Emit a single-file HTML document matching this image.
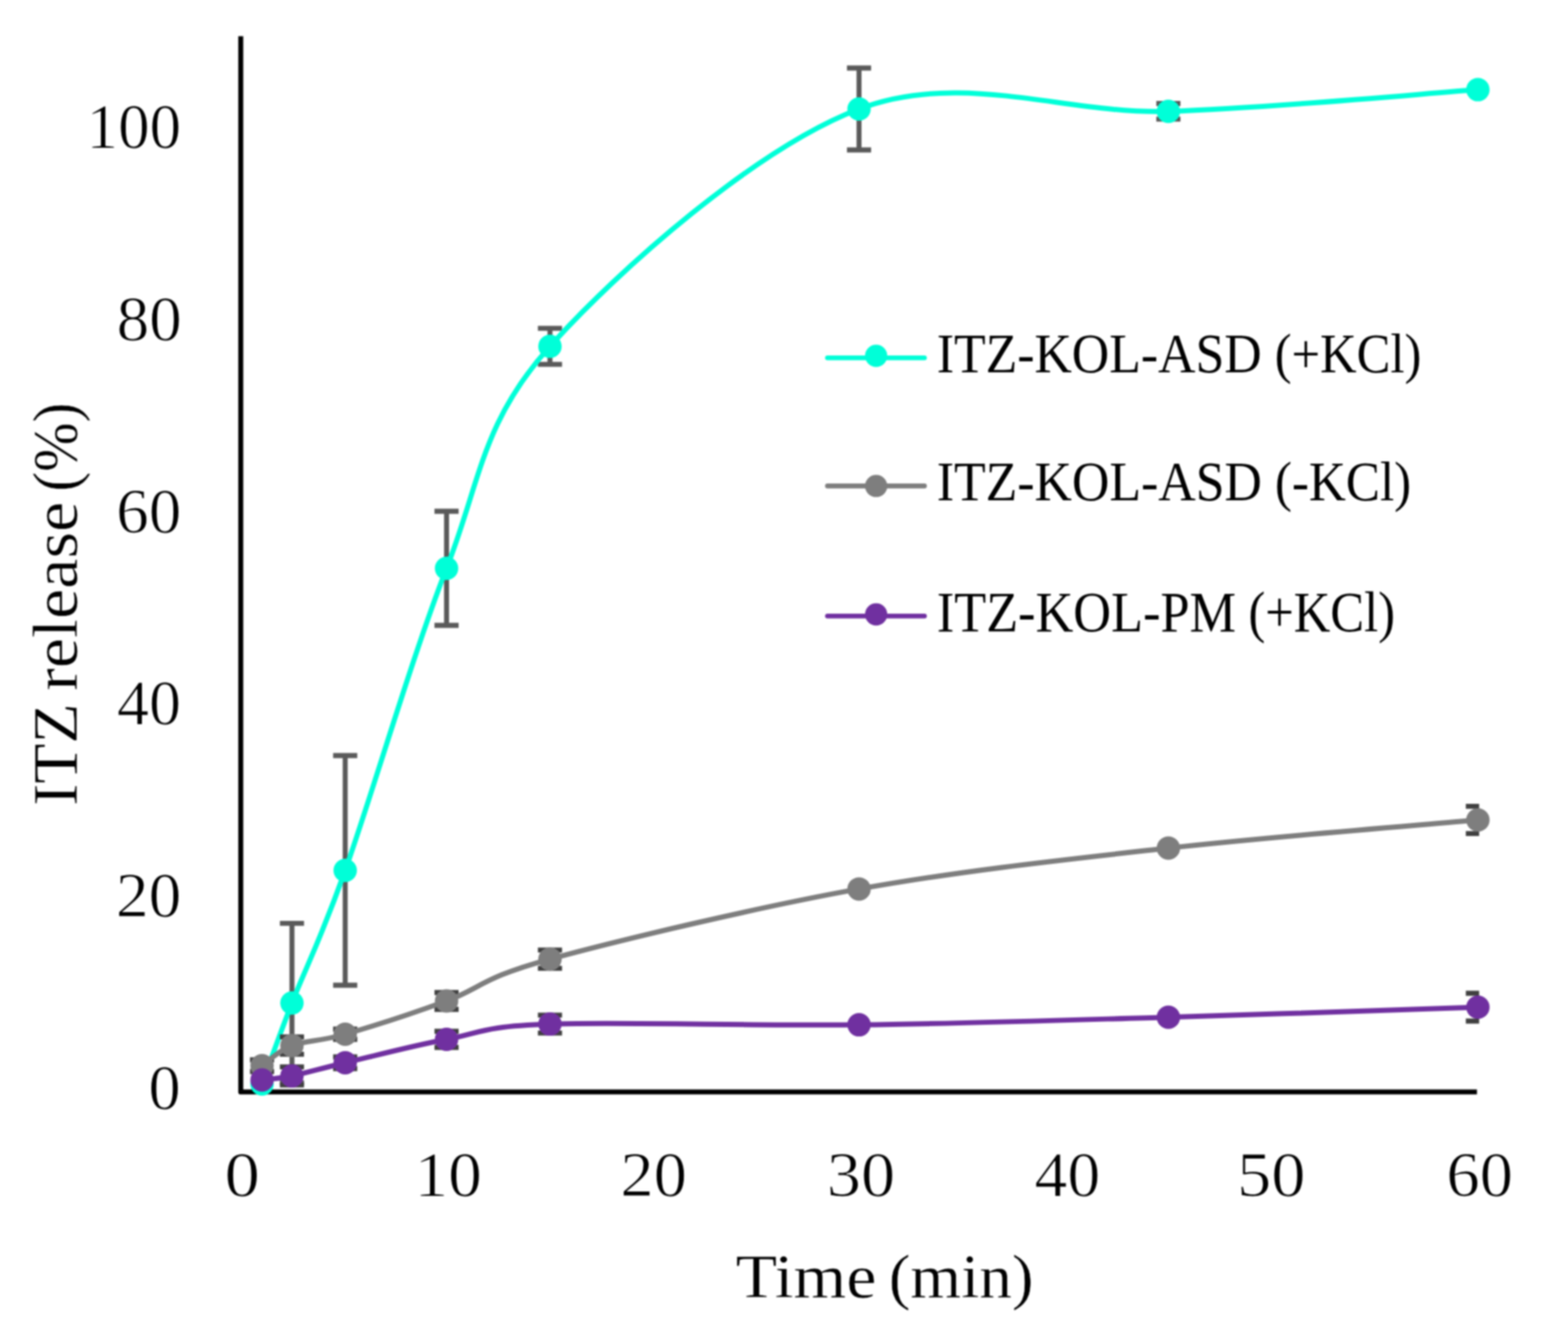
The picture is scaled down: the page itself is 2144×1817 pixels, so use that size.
<!DOCTYPE html>
<html><head><meta charset="utf-8"><title>ITZ release chart</title>
<style>html,body{margin:0;padding:0;background:#fff;width:2144px;height:1817px;overflow:hidden}svg{display:block;filter:blur(0.9px)}text{stroke:#fff}.d{stroke-width:1px}.l{stroke-width:0}.t{stroke-width:0.5px}</style>
</head><body>
<svg xmlns="http://www.w3.org/2000/svg" width="2144" height="1817" viewBox="0 0 2144 1817" font-family="'Liberation Serif', 'DejaVu Serif', serif" fill="#000">
<rect width="2144" height="1817" fill="#fff"/>
<defs><clipPath id="pa"><rect x="326" y="40" width="1696.5" height="1460"/></clipPath></defs>
<path d="M329.2,49.5V1492.9H2019.5" stroke="#000" stroke-width="6.8" fill="none" stroke-linejoin="round"/>
<text class="d" transform="matrix(1.0269,0,0,1.0230,118.35,202.11)" font-size="84">100</text>
<text class="d" transform="matrix(1.0597,0,0,1.0230,159.54,464.83)" font-size="84">80</text>
<text class="d" transform="matrix(1.0570,0,0,1.0230,159.06,727.55)" font-size="84">60</text>
<text class="d" transform="matrix(1.0407,0,0,1.0230,160.07,990.27)" font-size="84">40</text>
<text class="d" transform="matrix(1.0636,0,0,1.0230,158.53,1252.99)" font-size="84">20</text>
<text class="d" transform="matrix(1.0484,0,0,1.0230,203.08,1515.71)" font-size="84">0</text>
<text class="d" transform="matrix(1.1521,0,0,1.0230,306.91,1635.01)" font-size="84">0</text>
<text class="d" transform="matrix(1.0990,0,0,1.0230,566.68,1635.01)" font-size="84">10</text>
<text class="d" transform="matrix(1.0846,0,0,1.0230,848.14,1635.01)" font-size="84">20</text>
<text class="d" transform="matrix(1.1136,0,0,1.0230,1130.51,1635.01)" font-size="84">30</text>
<text class="d" transform="matrix(1.0701,0,0,1.0230,1414.50,1635.01)" font-size="84">40</text>
<text class="d" transform="matrix(1.1141,0,0,1.0230,1691.47,1635.01)" font-size="84">50</text>
<text class="d" transform="matrix(1.0846,0,0,1.0230,1977.64,1635.01)" font-size="84">60</text>
<path d="M399.20,1262.30V1480.30M382.70,1262.30h33.00M382.70,1480.30h33.00M472.00,1033.00V1347.00M455.50,1033.00h33.00M455.50,1347.00h33.00M610.60,699.00V855.00M594.10,699.00h33.00M594.10,855.00h33.00M752.00,448.80V498.20M735.50,448.80h33.00M735.50,498.20h33.00M1174.60,93.00V205.00M1158.10,93.00h33.00M1158.10,205.00h33.00M1597.60,141.50V162.90M1581.10,141.50h33.00M1581.10,162.90h33.00" stroke="#5a5a5a" stroke-width="6.8" fill="none" clip-path="url(#pa)"/>
<path d="M358.30,1482.00 C365.12,1463.55 380.25,1419.97 399.20,1371.30 C418.15,1322.63 436.77,1289.05 472.00,1190.00 C507.23,1090.95 563.93,896.42 610.60,777.00 C657.27,657.58 658.00,578.17 752.00,473.50 C846.00,368.83 1033.67,202.55 1174.60,149.00 C1315.53,95.45 1456.57,156.60 1597.60,152.20 C1738.63,147.80 1950.27,127.53 2020.80,122.60" stroke="#00FFD8" stroke-width="7.0" fill="none" stroke-linecap="round" stroke-linejoin="round"/>
<circle cx="358.30" cy="1482.00" r="16.0" fill="#00FFD8"/>
<circle cx="399.20" cy="1371.30" r="16.0" fill="#00FFD8"/>
<circle cx="472.00" cy="1190.00" r="16.0" fill="#00FFD8"/>
<circle cx="610.60" cy="777.00" r="16.0" fill="#00FFD8"/>
<circle cx="752.00" cy="473.50" r="16.0" fill="#00FFD8"/>
<circle cx="1174.60" cy="149.00" r="16.0" fill="#00FFD8"/>
<circle cx="1597.60" cy="152.20" r="16.0" fill="#00FFD8"/>
<circle cx="2020.80" cy="122.60" r="16.0" fill="#00FFD8"/>
<path d="M358.30,1449.00V1465.00M341.80,1449.00h33.00M341.80,1465.00h33.00M399.20,1417.70V1441.30M382.70,1417.70h33.00M382.70,1441.30h33.00M472.00,1407.00V1421.00M455.50,1407.00h33.00M455.50,1421.00h33.00M610.60,1357.00V1380.00M594.10,1357.00h33.00M594.10,1380.00h33.00M752.00,1298.80V1323.80M735.50,1298.80h33.00M735.50,1323.80h33.00M2020.80,1102.30V1139.70M2004.30,1102.30h33.00M2004.30,1139.70h33.00" stroke="#404040" stroke-width="6.8" fill="none" clip-path="url(#pa)"/>
<path d="M358.30,1457.00 C365.12,1452.42 380.25,1436.67 399.20,1429.50 C418.15,1422.33 436.77,1424.17 472.00,1414.00 C507.23,1403.83 563.93,1385.62 610.60,1368.50 C657.27,1351.38 658.00,1336.82 752.00,1311.30 C846.00,1285.78 1033.67,1240.70 1174.60,1215.40 C1315.53,1190.10 1456.57,1175.23 1597.60,1159.50 C1738.63,1143.77 1950.27,1127.42 2020.80,1121.00" stroke="#7E7E7E" stroke-width="7.0" fill="none" stroke-linecap="round" stroke-linejoin="round"/>
<circle cx="358.30" cy="1457.00" r="16.0" fill="#7E7E7E"/>
<circle cx="399.20" cy="1429.50" r="16.0" fill="#7E7E7E"/>
<circle cx="472.00" cy="1414.00" r="16.0" fill="#7E7E7E"/>
<circle cx="610.60" cy="1368.50" r="16.0" fill="#7E7E7E"/>
<circle cx="752.00" cy="1311.30" r="16.0" fill="#7E7E7E"/>
<circle cx="1174.60" cy="1215.40" r="16.0" fill="#7E7E7E"/>
<circle cx="1597.60" cy="1159.50" r="16.0" fill="#7E7E7E"/>
<circle cx="2020.80" cy="1121.00" r="16.0" fill="#7E7E7E"/>
<path d="M399.20,1458.70V1483.30M382.70,1458.70h33.00M382.70,1483.30h33.00M472.00,1445.00V1461.00M455.50,1445.00h33.00M455.50,1461.00h33.00M610.60,1410.00V1432.00M594.10,1410.00h33.00M594.10,1432.00h33.00M752.00,1387.80V1412.40M735.50,1387.80h33.00M735.50,1412.40h33.00M2020.80,1358.00V1396.00M2004.30,1358.00h33.00M2004.30,1396.00h33.00" stroke="#404040" stroke-width="6.8" fill="none" clip-path="url(#pa)"/>
<path d="M358.30,1476.50 C365.12,1475.58 380.25,1474.92 399.20,1471.00 C418.15,1467.08 436.77,1461.33 472.00,1453.00 C507.23,1444.67 563.93,1429.82 610.60,1421.00 C657.27,1412.18 658.00,1403.42 752.00,1400.10 C846.00,1396.78 1033.67,1402.67 1174.60,1401.10 C1315.53,1399.53 1456.57,1394.72 1597.60,1390.70 C1738.63,1386.68 1950.27,1379.28 2020.80,1377.00" stroke="#7030A0" stroke-width="7.0" fill="none" stroke-linecap="round" stroke-linejoin="round"/>
<circle cx="358.30" cy="1476.50" r="16.0" fill="#7030A0"/>
<circle cx="399.20" cy="1471.00" r="16.0" fill="#7030A0"/>
<circle cx="472.00" cy="1453.00" r="16.0" fill="#7030A0"/>
<circle cx="610.60" cy="1421.00" r="16.0" fill="#7030A0"/>
<circle cx="752.00" cy="1400.10" r="16.0" fill="#7030A0"/>
<circle cx="1174.60" cy="1401.10" r="16.0" fill="#7030A0"/>
<circle cx="1597.60" cy="1390.70" r="16.0" fill="#7030A0"/>
<circle cx="2020.80" cy="1377.00" r="16.0" fill="#7030A0"/>
<path d="M1131.5,489.2H1264" stroke="#00FFD8" stroke-width="6.6" stroke-linecap="round"/>
<circle cx="1198" cy="486.5" r="15.2" fill="#00FFD8"/>
<text class="l" transform="matrix(0.8427,0,0,0.9139,1280.90,508.80)" font-size="84">ITZ-KOL-ASD</text>
<text class="l" transform="matrix(0.8240,0,0,0.9139,1743.00,508.80)" font-size="84">(+KCl)</text>
<path d="M1131.5,664.4H1264" stroke="#7E7E7E" stroke-width="6.6" stroke-linecap="round"/>
<circle cx="1198" cy="664.4" r="15.2" fill="#7E7E7E"/>
<text class="l" transform="matrix(0.8433,0,0,0.9176,1280.90,683.90)" font-size="84">ITZ-KOL-ASD</text>
<text class="l" transform="matrix(0.8329,0,0,0.9176,1743.17,683.90)" font-size="84">(-KCl)</text>
<path d="M1131.5,842.2H1264" stroke="#7030A0" stroke-width="6.6" stroke-linecap="round"/>
<circle cx="1198" cy="840.0" r="15.2" fill="#7030A0"/>
<text class="l" transform="matrix(0.8519,0,0,0.9212,1280.88,862.50)" font-size="84">ITZ-KOL-PM</text>
<text class="l" transform="matrix(0.8244,0,0,0.9212,1706.90,862.50)" font-size="84">(+KCl)</text>
<text class="t" transform="matrix(1.1027,0,0,1.0128,1006.05,1773.50)" font-size="84">Time</text>
<text class="t" transform="matrix(1.0619,0,0,1.0128,1215.14,1773.50)" font-size="84">(min)</text>
<text class="t" transform="translate(104.8,1098) rotate(-90) matrix(1.0722,0,0,1.0220,-3.60,0)" font-size="84">ITZ</text>
<text class="t" transform="translate(104.8,1098) rotate(-90) matrix(1.1096,0,0,1.0220,153.43,0)" font-size="84">release</text>
<text class="t" transform="translate(104.8,1098) rotate(-90) matrix(0.9648,0,0,1.0220,426.12,0)" font-size="84">(%)</text>
</svg>
</body></html>
